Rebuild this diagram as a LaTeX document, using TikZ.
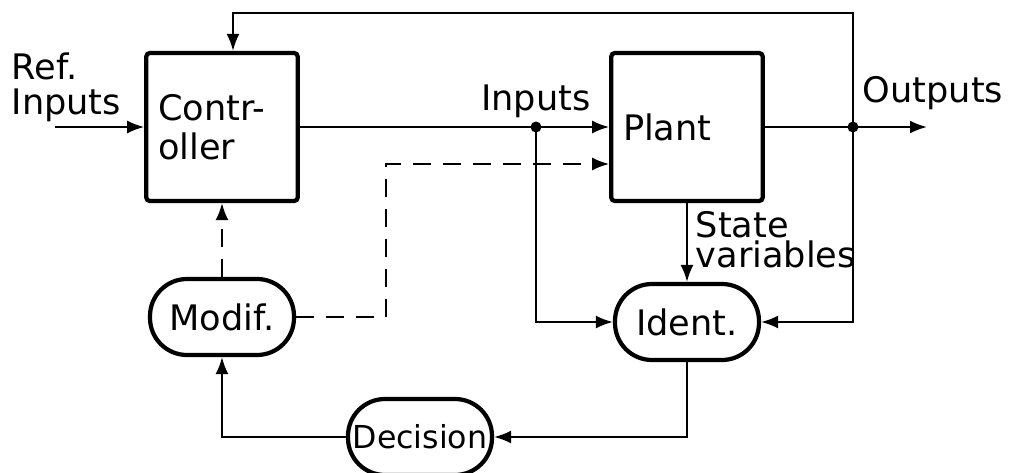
\documentclass[tikz,border=0pt]{standalone}
\usepackage{fontspec}
\setmainfont{DejaVu Sans}
\usetikzlibrary{arrows.meta}

\begin{document}
\begin{tikzpicture}[node distance=4.65cm, auto, >={Latex[length=1.7mm,width=1.3mm]},
    block/.style={rectangle, draw, line width=1.2pt, rounded corners=1pt, align=left, text width=1.28cm, minimum width=1.5cm, minimum height=1.48cm, font=\fontsize{10}{11}\selectfont},
    oval/.style={rectangle, draw, line width=1.2pt, rounded corners=3.7mm, minimum width=1.44cm, minimum height=0.76cm, inner sep=0pt},
    dot/.style={circle, fill, inner sep=0pt, minimum size=1.1mm},
    lbl/.style={inner sep=0pt, align=left, font=\fontsize{10}{10}\selectfont},
    line/.style={line width=0.6pt},
    dline/.style={line width=0.6pt, dash pattern=on 1.8mm off 1.2mm}]
    \useasboundingbox (0,0) rectangle (10.15,-4.73);

    \node[block] (ctrl) at (2.22,-1.27) {Contr-\\oller};
    \node[block, right of=ctrl] (plant) {Plant};
    \node[oval, below of=ctrl, node distance=1.9cm] (modif) {Modif.};
    \node[oval, below of=plant, node distance=1.95cm] (ident) {Ident.};
    \node[oval, font=\fontsize{9}{10}\selectfont] (dec) at (4.2,-4.37) {Decision};

    \node[dot] (inj) at (5.36,-1.27) {};
    \node[dot] (outj) at (8.53,-1.27) {};
    \coordinate (refin) at (0.55,-1.27);
    \coordinate (outend) at (9.27,-1.27);
    \coordinate (fbk) at (2.33,-0.13);
    \coordinate (dcorn) at (3.86,-1.64);

    \node[lbl, anchor=north west] (refl) at (0.11,-0.52) {Ref.\\Inputs};
    \node[lbl, anchor=base] (inl) at (5.36,-1.10) {Inputs};
    \node[lbl, anchor=base west] (outl) at (8.62,-1.02) {Outputs};
    \node[lbl, anchor=north west, font=\fontsize{10}{8.5}\selectfont] (statel) at (6.95,-2.11) {State\\variables};

    \draw[line, ->] (refin) -- (ctrl.west);
    \draw[line, ->] (ctrl.east) -- (plant.west);
    \draw[line, ->] (plant.east) -- (outend);
    \draw[line, ->] (outj.center) |- (fbk) -- (fbk |- ctrl.north);
    \draw[line, ->] (outj.center) |- (ident.east);
    \draw[line, ->] (inj.center) |- (ident.west);
    \draw[line, ->] (plant.south) -- (ident.north);
    \draw[line, ->] (ident.south) |- (dec.east);
    \draw[line, ->] (dec.west) -| (modif.south);
    \draw[dline, ->] (modif.north) -- (ctrl.south);
    \draw[dline, ->] (modif.east) -| (dcorn) -- (dcorn -| plant.west);
\end{tikzpicture}
\end{document}
